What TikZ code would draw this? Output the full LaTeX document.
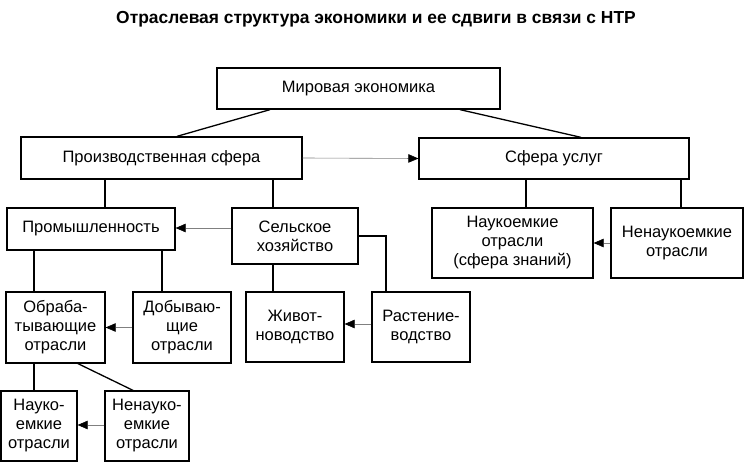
\documentclass[tikz,border=0pt]{standalone}
\usepackage{fontspec}
\setmainfont{Liberation Sans}
\usetikzlibrary{arrows.meta}

\begin{document}
\begin{tikzpicture}[x=1pt,y=-1pt,
  box/.style={draw, line width=1.3pt, align=center, inner sep=0pt,
    font=\fontsize{16.5}{19}\selectfont},
  link/.style={line width=1.3pt},
  flowarrow/.style={gray, line width=0.6pt,
    -{Triangle[length=10pt,width=8.5pt,color=black]}}]
\useasboundingbox (0,0) rectangle (744,462);

\node[font=\bfseries\fontsize{17.4}{20}\selectfont] (title) at (376,19)
  {Отраслевая структура экономики и ее сдвиги в связи с НТР};

\node[box, minimum width=283pt, minimum height=41pt] (mir) at (358.5,88.5) {Мировая экономика};
\node[box, minimum width=281pt, minimum height=42pt] (proizv) at (161.5,158) {Производственная сфера};
\node[box, minimum width=270pt, minimum height=41pt] (uslug) at (554,158.5) {Сфера услуг};

\node[box, minimum width=168pt, minimum height=42pt] (prom) at (91,229) {Промышленность};
\node[box, minimum width=126pt, minimum height=56pt] (selsk) at (295,236) {Сельское\\хозяйство};
\node[box, minimum width=161pt, minimum height=70pt] (naukserv) at (512.5,243) {Наукоемкие\\отрасли\\(сфера знаний)};
\node[box, minimum width=132pt, minimum height=70pt] (nenaukserv) at (677,243) {Ненаукоемкие\\отрасли};

\node[box, minimum width=99pt, minimum height=71pt] (obrab) at (55.5,327.5) {Обраба-\\тывающие\\отрасли};
\node[box, minimum width=98pt, minimum height=71pt] (dobyv) at (182,327.5) {Добываю-\\щие\\отрасли};
\node[box, minimum width=98pt, minimum height=70pt] (zhivot) at (295,327) {Живот-\\новодство};
\node[box, minimum width=98pt, minimum height=70pt] (rast) at (421,327) {Растение-\\водство};

\node[box, minimum width=76pt, minimum height=70pt] (nauko) at (39,426) {Науко-\\емкие\\отрасли};
\node[box, minimum width=84pt, minimum height=70pt] (nenauko) at (147,426) {Ненауко-\\емкие\\отрасли};

\draw[link] ([xshift=-88.5pt]mir.south) -- ([xshift=15.5pt]proizv.north);
\draw[link] ([xshift=101.5pt]mir.south) -- ([xshift=27pt]uslug.north);
\draw[flowarrow] (proizv.east) -- (uslug.west);

\draw[link] ([xshift=14pt]prom.north) -- ([xshift=14pt]prom.north |- proizv.south);
\draw[link] ([xshift=-22pt]selsk.north) -- ([xshift=-22pt]selsk.north |- proizv.south);
\draw[flowarrow] ([yshift=8pt]selsk.west) -- ([yshift=8pt]selsk.west -| prom.east);

\draw[link] ([xshift=13.5pt]naukserv.north) -- ([xshift=13.5pt]naukserv.north |- uslug.south);
\draw[link] ([xshift=4pt]nenaukserv.north) -- ([xshift=4pt]nenaukserv.north |- uslug.south);
\draw[flowarrow] (nenaukserv.west) -- (naukserv.east);

\draw[link] ([xshift=-21.5pt]obrab.north) -- ([xshift=-21.5pt]obrab.north |- prom.south);
\draw[link] ([xshift=-20pt]dobyv.north) -- ([xshift=-20pt]dobyv.north |- prom.south);
\draw[flowarrow] (dobyv.west) -- (obrab.east);

\draw[link] ([xshift=-22pt]zhivot.north |- selsk.south) -- ([xshift=-22pt]zhivot.north);
\draw[link] (selsk.east) -| ([xshift=-35pt]rast.north);
\draw[flowarrow] ([yshift=3pt]rast.west) -- ([yshift=3pt]zhivot.east);

\draw[link] ([xshift=-5pt]nauko.north) -- ([xshift=-5pt]nauko.north |- obrab.south);
\draw[link] ([xshift=22.5pt]obrab.south) -- ([xshift=-14pt]nenauko.north);
\draw[flowarrow] ([yshift=1pt]nenauko.west) -- ([yshift=1pt]nenauko.west -| nauko.east);
\end{tikzpicture}
\end{document}
